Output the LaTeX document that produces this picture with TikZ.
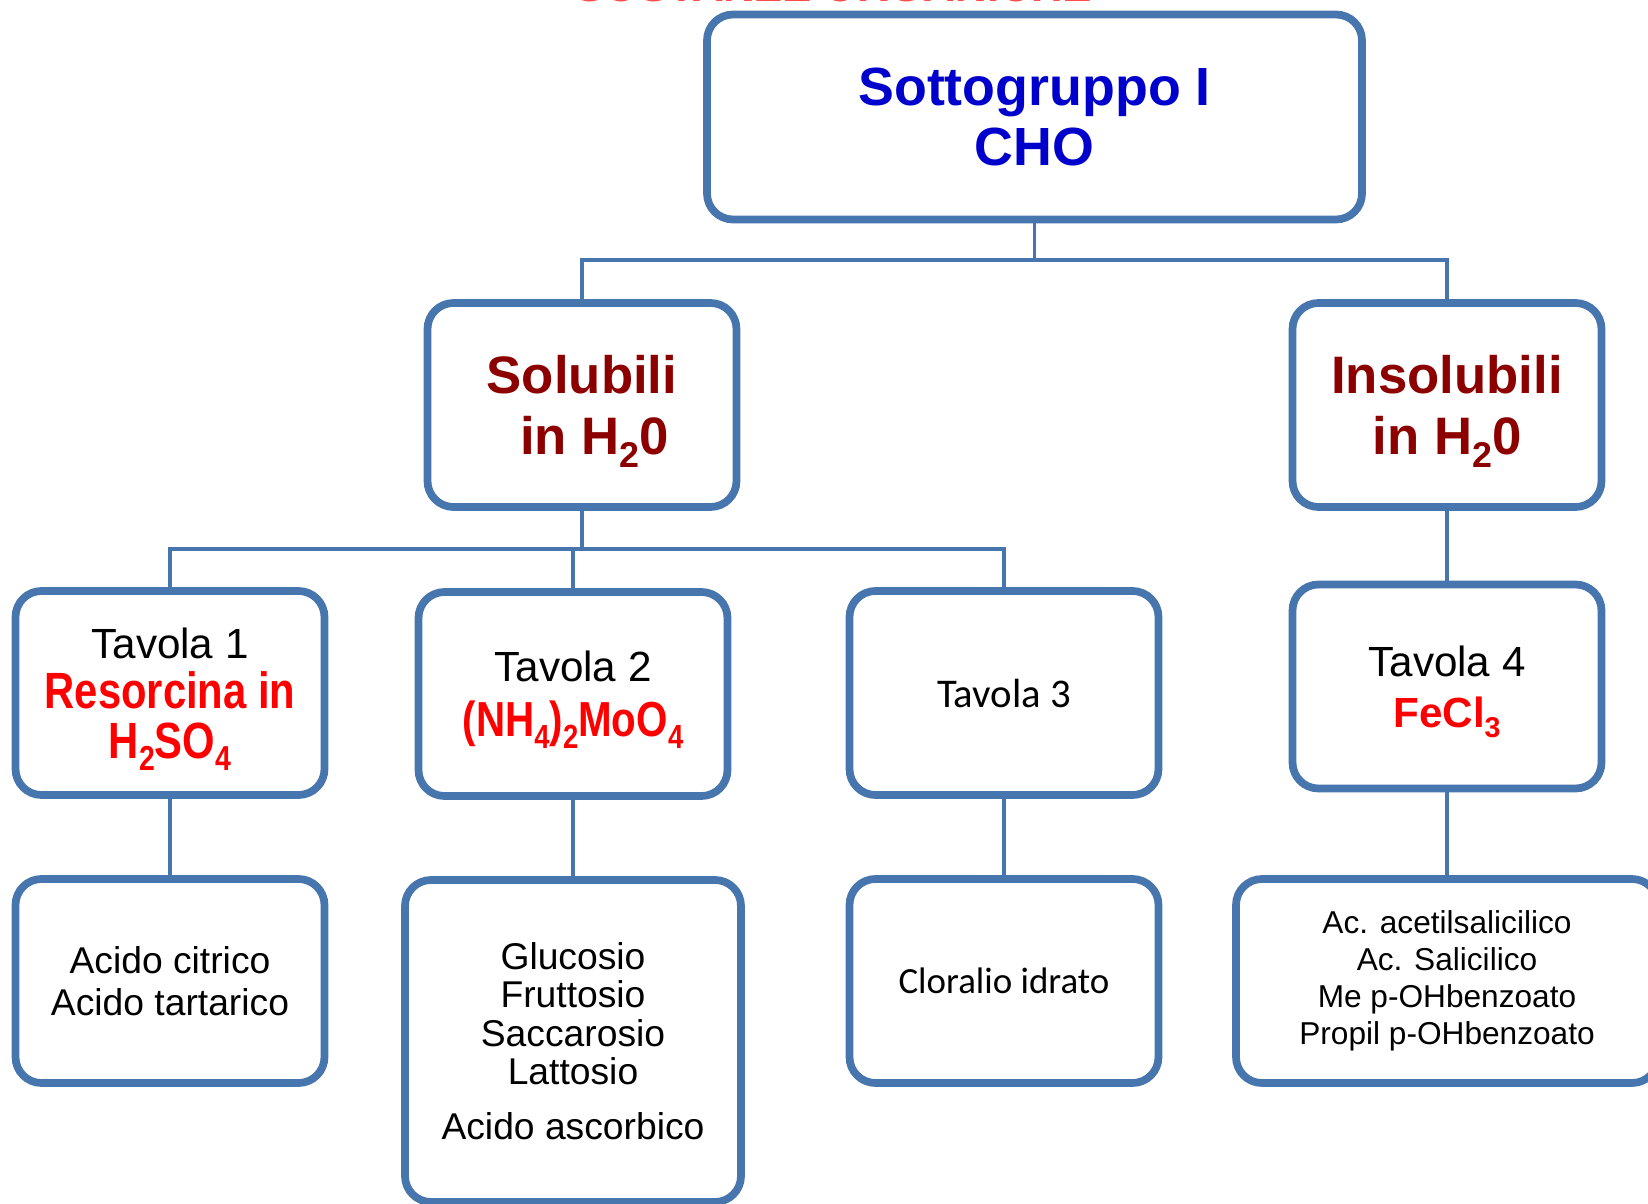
\documentclass[tikz,border=0pt]{standalone}
\usepackage{fontspec}
\setmainfont{Liberation Sans}
\newfontfamily\calfont{Carlito}
\newfontfamily\narrowfont[FakeStretch=0.82]{Liberation Sans}
\usepackage{xcolor}
\usepackage{tikz}
\usetikzlibrary{positioning, calc}

\definecolor{boxblue}{RGB}{71,117,173}
\definecolor{cgblue}{RGB}{0,0,204}
\definecolor{solred}{RGB}{140,0,0}
\definecolor{tavred}{RGB}{255,0,0}
\newcommand{\fsz}[2]{\fontsize{#1}{#2}\selectfont}
\newcommand{\sbs}[1]{\raisebox{-0.24em}{\scalebox{0.68}{#1}}}

\begin{document}
\begin{tikzpicture}[
  bx/.style={draw=boxblue, line width=2.2pt, rounded corners=0.26cm, fill=white, align=center,
             inner sep=0pt, minimum width=3.09cm, minimum height=2.04cm},
  lnk/.style={draw=boxblue, line width=1.1pt},
]
\useasboundingbox (0,0) rectangle (16.48,-12.04);

% ── title (cut at the top edge) ──
\node[anchor=base, text=tavred!70, font=\fsz{12.5}{14}\bfseries] (title) at (8.34,-0.012) {SOSTANZE ORGANICHE};

% ── level 0 / 1 ──
\node[bx, minimum width=6.55cm, minimum height=2.05cm, text=cgblue, font=\fsz{15.3}{17}\bfseries] (cho) at (10.345,-1.17) {Sottogruppo I\\CHO};
\node[bx, text depth=0pt, text=solred, font=\fsz{15}{17.4}\bfseries] (sol) at (5.82,-4.05) {Solubili\\\hspace*{0.25cm}in H\sbs{2}0};
\node[bx, text depth=0pt, text=solred, font=\fsz{15}{17.4}\bfseries] (insol) at (14.47,-4.05) {Insolubili\\in H\sbs{2}0};

% ── Tavole ──
\node[bx, text depth=0pt, font=\fsz{12}{14.2}] (tav1) at (1.70,-6.93) {Tavola 1\\{\color{tavred}\narrowfont\bfseries\fsz{14.5}{14.2}Resorcina in}\\{\color{tavred}\narrowfont\bfseries\fsz{14.5}{14.2}H\sbs{2}SO\sbs{4}}};
\node[bx, text depth=0pt, font=\fsz{12}{15.6}] (tav2) at (5.73,-6.94) {Tavola 2\\{\color{tavred}\narrowfont\bfseries\fsz{14}{15.6}(NH\sbs{4})\sbs{2}MoO\sbs{4}}};
\node[bx, font=\calfont\fsz{11.6}{14}] (tav3) at (10.04,-6.93) {Tavola 3};
\node[bx, text depth=0pt, font=\fsz{12}{14.4}] (tav4) at (14.47,-6.865) {Tavola 4\\{\color{tavred}\bfseries\fsz{12}{14.4}FeCl\sbs{3}}};

% ── contents ──
\node[bx, font=\fsz{10.6}{11.8}] (ac1) at (1.70,-9.81) {Acido citrico\\Acido tartarico};
\node[bx, minimum width=3.36cm, minimum height=3.22cm, font=\fsz{10.6}{11}] (ac2) at (5.73,-10.41) {Glucosio\\Fruttosio\\Saccarosio\\Lattosio\\[0.16cm]Acido ascorbico};
\node[bx, font=\calfont\fsz{10.5}{12}] (ac3) at (10.04,-9.81) {Cloralio idrato};
\node[bx, minimum width=4.22cm, font=\fsz{9}{10.5}] (ac4) at (14.47,-9.81) {Ac. acetilsalicilico\\Ac. Salicilico\\Me p-OHbenzoato\\Propil p-OHbenzoato};

% ── connectors ──
\draw[lnk] (cho.south) -- ++(0,-0.37) -| (sol.north);
\draw[lnk] (cho.south) -- ++(0,-0.37) -| (insol.north);
\draw[lnk] (sol.south) -- ++(0,-0.38) -| (tav1.north);
\draw[lnk] (sol.south) -- ++(0,-0.38) -| (tav2.north);
\draw[lnk] (sol.south) -- ++(0,-0.38) -| (tav3.north);
\draw[lnk] (insol) -- (tav4);
\draw[lnk] (tav1) -- (ac1);
\draw[lnk] (tav2) -- (ac2);
\draw[lnk] (tav3) -- (ac3);
\draw[lnk] (tav4) -- (ac4);
\end{tikzpicture}
\end{document}
